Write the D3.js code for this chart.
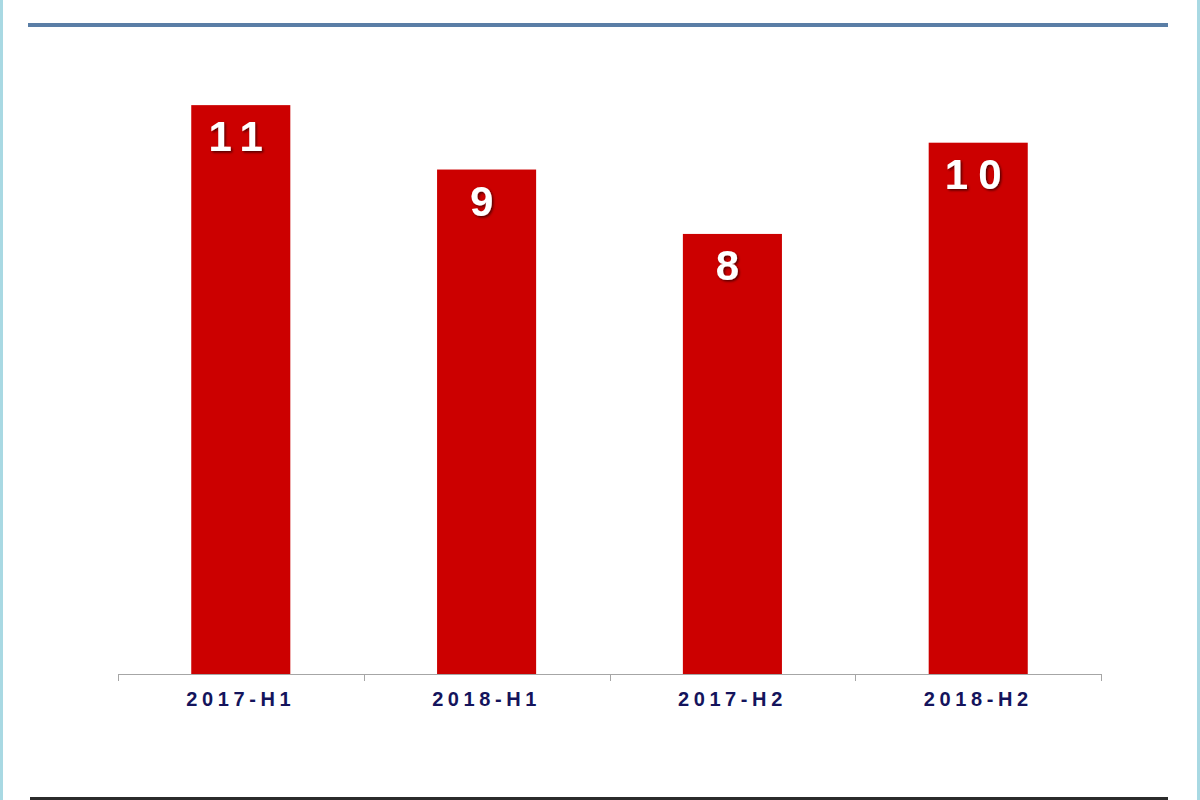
<!DOCTYPE html>
<html>
<head>
<meta charset="utf-8">
<script src="https://cdn.jsdelivr.net/npm/d3@7"></script>
<style>
  body { margin: 0; background: #fff; }
  svg { display: block; }
</style>
</head>
<body>
<div id="bar-chart"></div>
<script>
// data (labels show rounded values)
var periods = ["2017-H1", "2018-H1", "2017-H2", "2018-H2"];
var counts = [10.6, 9.4, 8.2, 9.9];
var yTicks = [0, 12];

var W = 1200, H = 800;
var margin = {top: 30, right: 99, bottom: 126, left: 118},
    width = W - margin.left - margin.right,
    height = H - margin.top - margin.bottom;

var svg = d3.select("#bar-chart")
  .append("svg")
    .attr("width", W)
    .attr("height", H);

// page frame: light blue sides, blue rule on top, dark rule at the bottom
svg.append("rect").attr("x", 0).attr("y", 0).attr("width", 3).attr("height", H).attr("fill", "#a9d9e3");
svg.append("rect").attr("x", W - 3).attr("y", 0).attr("width", 3).attr("height", H).attr("fill", "#a9d9e3");
svg.append("rect").attr("x", 28).attr("y", 23).attr("width", 1140).attr("height", 4).attr("fill", "#5a7ea6");
svg.append("rect").attr("x", 30).attr("y", 797).attr("width", 1138).attr("height", 3).attr("fill", "#2b2b2b");

var g = svg.append("g")
    .attr("transform", "translate(" + margin.left + "," + margin.top + ")");

var x = d3.scaleBand()
    .domain(periods)
    .range([0, width])
    .paddingInner(0.597)
    .paddingOuter(0.298);

var y = d3.scaleLinear()
    .domain(d3.extent(yTicks))
    .range([height, 0]);

// shadow for the value labels
var defs = svg.append("defs");
var f = defs.append("filter").attr("id", "shadow").attr("x", "-20%").attr("y", "-20%").attr("width", "140%").attr("height", "140%");
f.append("feDropShadow").attr("dx", 1.5).attr("dy", 1.5).attr("stdDeviation", 1)
  .attr("flood-color", "#000").attr("flood-opacity", 0.6);

// bars
g.selectAll(".bar")
  .data(periods)
  .enter().append("rect")
    .attr("class", "bar")
    .attr("x", function(d) { return x(d); })
    .attr("y", function(d, i) { return y(counts[i]); })
    .attr("width", x.bandwidth())
    .attr("height", function(d, i) { return height - y(counts[i]); })
    .attr("fill", "#cc0000");

// value labels inside the top of each bar
g.selectAll(".val")
  .data(periods)
  .enter().append("text")
    .attr("class", "val")
    .attr("x", function(d) { return x(d) + x.bandwidth() / 2; })
    .attr("y", function(d, i) { return y(counts[i]) + 46; })
    .attr("text-anchor", "middle")
    .style("font-family", "'Liberation Sans', Arial, sans-serif")
    .style("font-size", "42px")
    .style("font-weight", "bold")
    .style("letter-spacing", "10px")
    .style("fill", "#fff")
    .attr("filter", "url(#shadow)")
    .text(function(d, i) { return d3.format(".0f")(counts[i]); });

// x axis with ticks between categories
var axis = g.append("g")
    .attr("transform", "translate(0," + height + ")");

axis.append("line")
    .attr("x1", 0).attr("x2", width)
    .attr("y1", 0.5).attr("y2", 0.5)
    .attr("stroke", "#a6a6a6");

var edges = periods.map(function(d) { return x(d) - x.step() * x.paddingInner() / 2; });
edges.push(width);
axis.selectAll(".tick-line")
  .data(edges)
  .enter().append("line")
    .attr("x1", function(d) { return Math.round(d) + 0.5; })
    .attr("x2", function(d) { return Math.round(d) + 0.5; })
    .attr("y1", 0).attr("y2", 7)
    .attr("stroke", "#a6a6a6");

axis.selectAll(".cat")
  .data(periods)
  .enter().append("text")
    .attr("class", "cat")
    .attr("x", function(d) { return x(d) + x.bandwidth() / 2; })
    .attr("y", 32)
    .attr("text-anchor", "middle")
    .style("font-family", "'Liberation Sans', Arial, sans-serif")
    .style("font-size", "20px")
    .style("font-weight", "bold")
    .style("letter-spacing", "4.6px")
    .style("fill", "#14145c")
    .text(function(d) { return d; });
</script>
</body>
</html>
